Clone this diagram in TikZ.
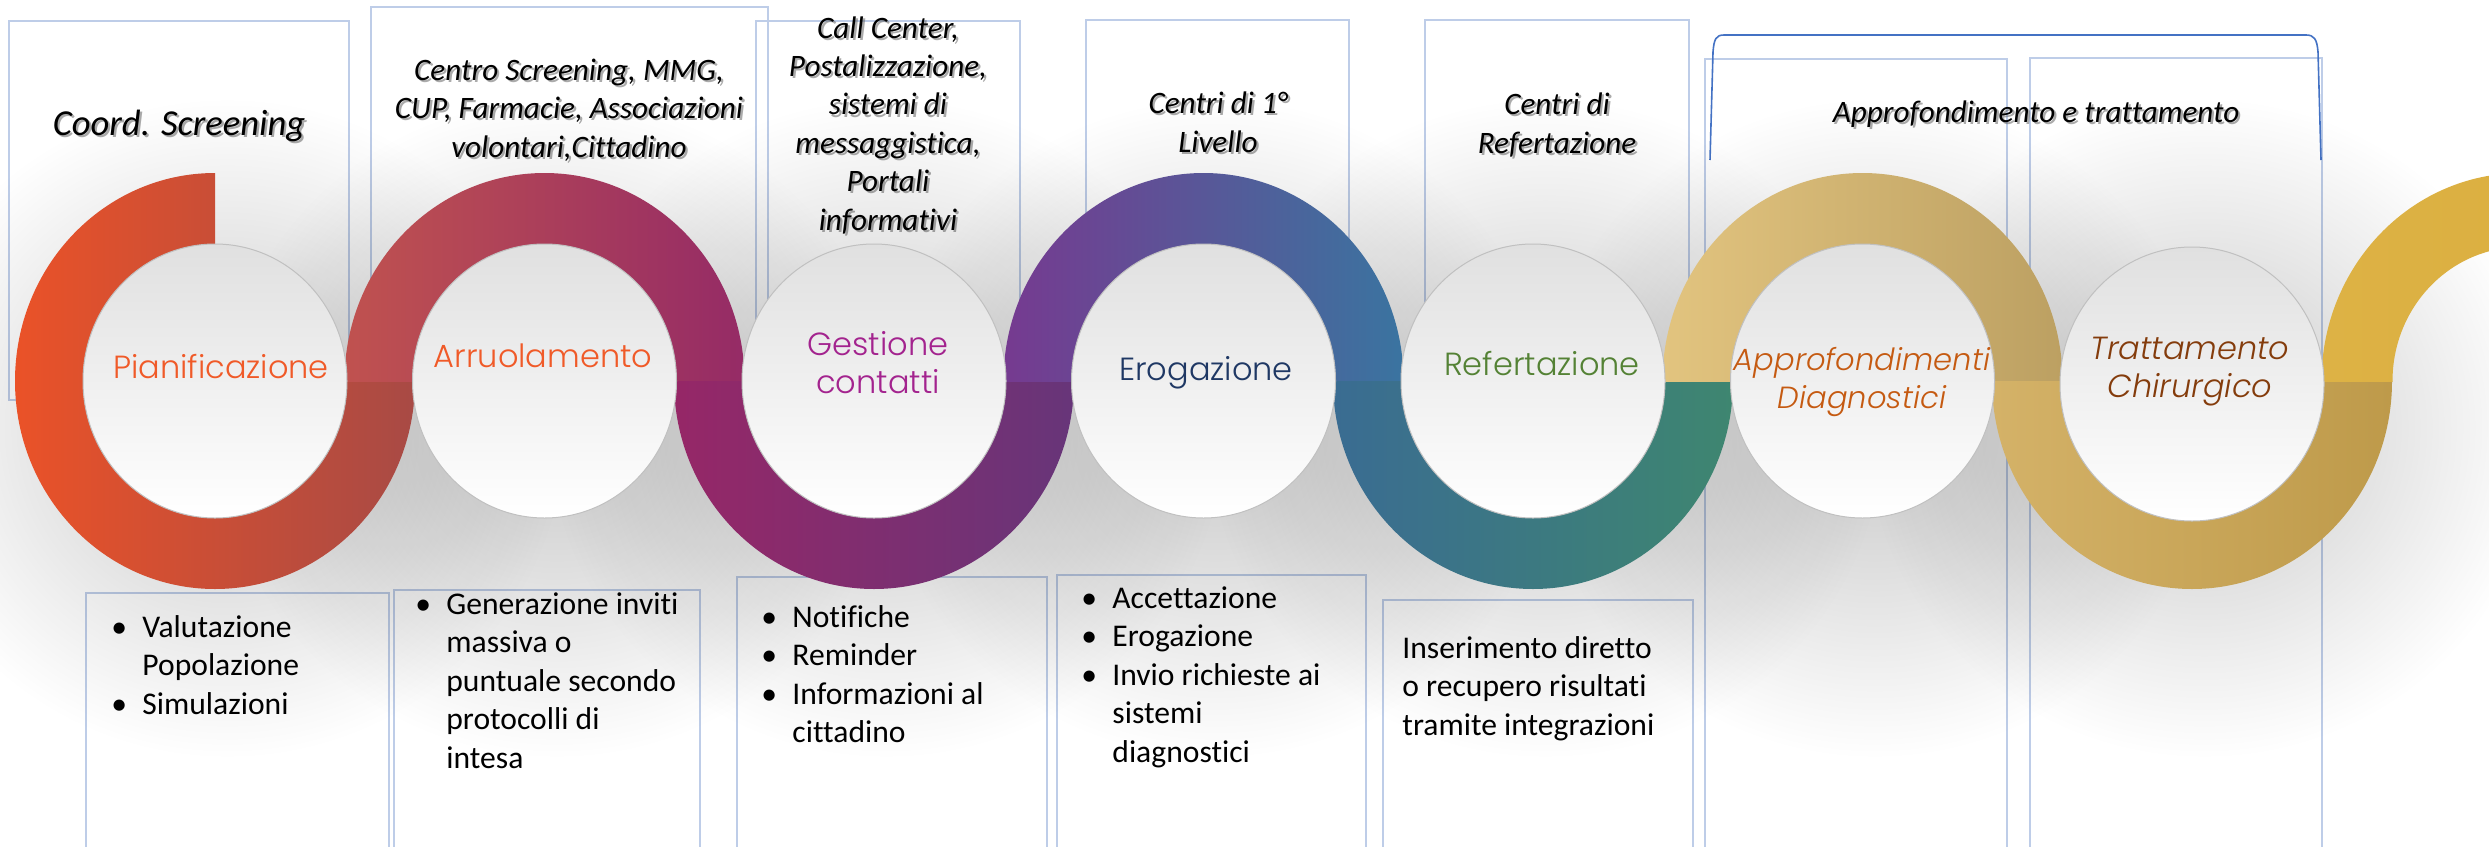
\documentclass[tikz,border=0pt]{standalone}
\usepackage{fontspec}
\setmainfont{Carlito}[Ligatures=NoCommon]
\newfontfamily\mont{Poppins Light}[Ligatures=NoCommon]
\usetikzlibrary{shapes.geometric,fadings}

\definecolor{boxline}{RGB}{190,205,232}
\definecolor{bracketblue}{HTML}{4472C4}
\definecolor{rA1}{HTML}{EA5228}
\definecolor{rA2}{HTML}{A84A45}
\definecolor{rB1}{HTML}{C0524F}
\definecolor{rB2}{HTML}{952B66}
\definecolor{rC1}{HTML}{962767}
\definecolor{rC2}{HTML}{673579}
\definecolor{rD1}{HTML}{763A90}
\definecolor{rD2}{HTML}{3A74A0}
\definecolor{rE1}{HTML}{3A6C92}
\definecolor{rE2}{HTML}{3E8670}
\definecolor{rF1}{HTML}{E2C47F}
\definecolor{rF2}{HTML}{BCA062}
\definecolor{rG1}{HTML}{D4B268}
\definecolor{rG2}{HTML}{BE9A4A}
\definecolor{rH1}{HTML}{DDB245}
\definecolor{rH2}{HTML}{DAAD3C}
\definecolor{diskTop}{HTML}{E0E0E0}
\definecolor{diskEdge}{HTML}{C0C0C0}
\definecolor{cOrange}{HTML}{F05A28}
\definecolor{cMagenta}{HTML}{A3238E}
\definecolor{cNavy}{HTML}{1F3864}
\definecolor{cGreen}{HTML}{548235}
\definecolor{cBrownOr}{HTML}{C55A11}
\definecolor{cBrown}{HTML}{843C0C}

\tikzfading[name=softshadow, inner color=transparent!0, outer color=transparent!100]

\newcommand\upring[3]{%
  \begin{scope}
    \clip (#1-210,161) rectangle (#1+210,381);
    \shade[left color=#2, right color=#3, even odd rule]
      (#1,381) ellipse [x radius=100pt, y radius=104pt]
      (#1,381) ellipse [x radius=64.5pt, y radius=67pt];
  \end{scope}}
\newcommand\downring[3]{%
  \begin{scope}
    \clip (#1-210,381) rectangle (#1+210,601);
    \shade[left color=#2, right color=#3, even odd rule]
      (#1,381) ellipse [x radius=100pt, y radius=104pt]
      (#1,381) ellipse [x radius=64.5pt, y radius=67pt];
  \end{scope}}
\newcommand\toplabel[4]{% position (baseline of last line), name, style, text
  \node[toplab, #3, text=black!60, opacity=0.55, xshift=1.1pt, yshift=-1.1pt] (#2s) at #1 {#4};
  \node[toplab, #3] (#2) at #1 {#4};}

\begin{document}
\begin{tikzpicture}[x=0.5pt, y=-0.5pt,
  boxframe/.style={draw=boxline, line width=0.9pt},
  toplab/.style={font=\itshape\fontsize{15.6}{19.2}\selectfont, align=center, anchor=base, inner sep=0pt},
  disk/.style={ellipse, minimum width=132pt, minimum height=137pt, inner sep=0pt,
     top color=diskTop, bottom color=white, draw=diskEdge, line width=0.5pt},
  dlabel/.style={font=\mont\fontsize{16}{19}\selectfont, align=center, anchor=base, inner sep=0pt},
  body/.style={font=\fontsize{15.8}{19.3}\selectfont, anchor=base west, inner sep=0pt},
  shadowblob/.style={fill=black, opacity=0.22, path fading=softshadow}
]
\useasboundingbox (0,0) rectangle (2489,846);
\clip (0,0) rectangle (2489,846);
\fill[white] (0,0) rectangle (2489,846);

% top boxes
\draw[boxframe] (9,21) rectangle (349,400);
\draw[boxframe] (371,7) rectangle (768,400);
\draw[boxframe] (756,21) rectangle (1020,400);
\draw[boxframe] (1086,20) rectangle (1349,400);
\draw[boxframe] (1425,20) rectangle (1689,400);
\draw[boxframe] (1705,59) rectangle (2007,900);
\draw[boxframe] (2030,58) rectangle (2322,900);
% bottom boxes
\draw[boxframe] (86,593) rectangle (389,900);
\draw[boxframe] (394,590) rectangle (700,900);
\draw[boxframe] (737,577) rectangle (1047,900);
\draw[boxframe] (1057,575) rectangle (1366,900);
\draw[boxframe] (1383,600) rectangle (1693,900);

% bracket
\draw[bracketblue, line width=0.8pt] (1710,160) -- (1713,52) .. controls (1714,39) and (1716,35) .. (1724,35)
   -- (2306,35) .. controls (2314,35) and (2317,39) .. (2318,52) -- (2321,160);

% top labels
\toplabel{(179,135)}{t1}{font=\itshape\fontsize{18.3}{21}\selectfont}{Coord. Screening}
\toplabel{(569,157)}{t2}{}{Centro Screening, MMG,\\CUP, Farmacie, Associazioni\\volontari,Cittadino}
\toplabel{(888,230)}{t3}{}{Call Center,\\Postalizzazione,\\sistemi di\\messaggistica,\\Portali\\informativi}
\toplabel{(1218,152)}{t4}{}{Centri di 1°\\Livello}
\toplabel{(1557,153)}{t5}{}{Centri di\\Refertazione}
\toplabel{(2036,122)}{t6}{}{Approfondimento e trattamento}

% soft shadows under the disks
\foreach \cx in {215,544.5,874,1203.5,1533,1862.5,2192}
  \path[shadowblob] (\cx+12,428) ellipse [x radius=170pt, y radius=165pt];

% ribbon
\begin{scope}
  \clip (5,161) -- (215,161) -- (215,381) -- (425,381) -- (425,601) -- (5,601) -- cycle;
  \shade[left color=rA1, right color=rA2, even odd rule]
    (215,381) ellipse [x radius=100pt, y radius=104pt]
    (215,381) ellipse [x radius=64.5pt, y radius=67pt];
\end{scope}
\upring{544.5}{rB1}{rB2}
\downring{874}{rC1}{rC2}
\upring{1203.5}{rD1}{rD2}
\downring{1533}{rE1}{rE2}
\upring{1862.5}{rF1}{rF2}
\downring{2192}{rG1}{rG2}
\upring{2521.5}{rH1}{rH2}

% disks
\node[disk] (d1) at (215,381) {};
\node[disk] (d2) at (544.5,381) {};
\node[disk] (d3) at (874,381) {};
\node[disk] (d4) at (1203.5,381) {};
\node[disk] (d5) at (1533,381) {};
\node[disk] (d6) at (1862.5,381) {};
\node[disk] (d7) at (2192,384) {};

% disk labels (anchor = baseline of the last line)
\node[dlabel, text=cOrange] (l1) at (221,378) {Pianificazione};
\node[dlabel, text=cOrange] (l2) at (543,367) {Arruolamento};
\node[dlabel, text=cMagenta] (l3) at (878,393) {Gestione\\contatti};
\node[dlabel, text=cNavy] (l4) at (1206,380) {Erogazione};
\node[dlabel, text=cGreen] (l5) at (1542,375) {Refertazione};
\node[dlabel, text=cBrownOr, font=\mont\itshape\fontsize{15.3}{19}\selectfont] (l6) at (1862,408) {Approfondimenti\\Diagnostici};
\node[dlabel, text=cBrown, font=\mont\itshape\fontsize{16}{19}\selectfont] (l7) at (2190,397) {Trattamento\\Chirurgico};

% bottom texts
\node[body] (b1) at (111,637) {\begin{tabular}[t]{@{}p{15.5pt}@{}l@{}}\textbullet & Valutazione\\ & Popolazione\\ \textbullet & Simulazioni\end{tabular}};
\node[body] (b2) at (415,614) {\begin{tabular}[t]{@{}p{15.5pt}@{}l@{}}\textbullet & Generazione inviti\\ & massiva o\\ & puntuale secondo\\ & protocolli di\\ & intesa\end{tabular}};
\node[body] (b3) at (761,627) {\begin{tabular}[t]{@{}p{15.5pt}@{}l@{}}\textbullet & Notifiche\\ \textbullet & Reminder\\ \textbullet & Informazioni al\\ & cittadino\end{tabular}};
\node[body] (b4) at (1081,608) {\begin{tabular}[t]{@{}p{15.5pt}@{}l@{}}\textbullet & Accettazione\\ \textbullet & Erogazione\\ \textbullet & Invio richieste ai\\ & sistemi\\ & diagnostici\end{tabular}};
\node[body] (b5) at (1402,658) {\begin{tabular}[t]{@{}l@{}}Inserimento diretto\\ o recupero risultati\\ tramite integrazioni\end{tabular}};
\end{tikzpicture}
\end{document}
